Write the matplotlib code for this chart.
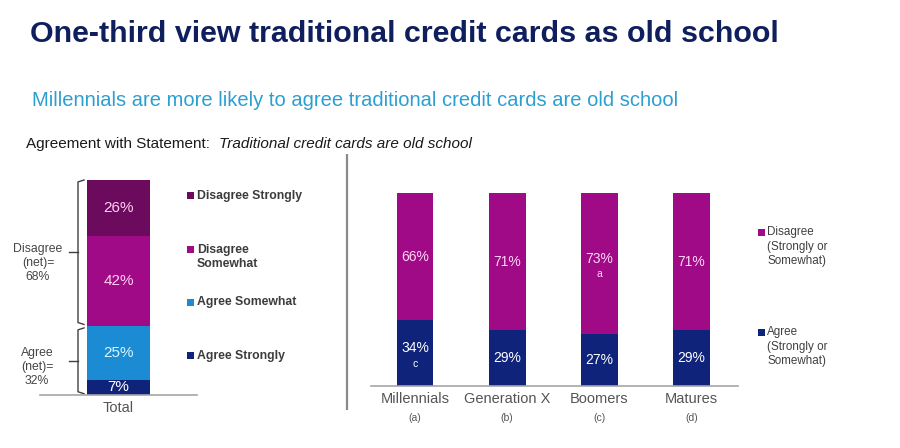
import matplotlib
matplotlib.use("Agg")
import matplotlib.pyplot as plt
from matplotlib.transforms import blended_transform_factory
import numpy as np

plt.rcParams['font.family'] = ['Liberation Sans', 'DejaVu Sans']

# ---------------- data ----------------
title = "One-third view traditional credit cards as old school"
subtitle = "Millennials are more likely to agree traditional credit cards are old school"
statement_label = "Agreement with Statement:  "
statement_text = "Traditional credit cards are old school"

total_category = ["Total"]
total_segments = ["Agree Strongly", "Agree Somewhat", "Disagree Somewhat", "Disagree Strongly"]
total_values = [7, 25, 42, 26]
total_legend_labels = ["Disagree Strongly", "Disagree\nSomewhat", "Agree Somewhat", "Agree Strongly"]
net_labels = ["Agree\n(net)=\n32%", "Disagree\n(net)=\n68%"]

generations = ["Millennials", "Generation X", "Boomers", "Matures"]
generation_letters = ["(a)", "(b)", "(c)", "(d)"]
agree_values = [34, 29, 27, 29]
disagree_values = [66, 71, 73, 71]
agree_sig = ["c", "", "", ""]
disagree_sig = ["", "", "a", ""]
gen_legend_labels = ["Disagree\n(Strongly or\nSomewhat)", "Agree\n(Strongly or\nSomewhat)"]

# ---------------- style ----------------
C_DS = "#6c0a5e"
C_DSW = "#a10a86"
C_AS = "#1b8bd4"
C_AST = "#10237a"
seg_colors = [C_AST, C_AS, C_DSW, C_DS]
seg_text = ["#ffffff", "#d8f6ff", "#ffd0f4", "#ffd0f4"]

W, H = 900, 448
fig = plt.figure(figsize=(9, 4.48), dpi=100)
fig.patch.set_facecolor("white")

def fx(px):
    return px / W

def fy(py):
    return 1 - py / H

# overlay axes in pixel coords for decorations
ov = fig.add_axes([0, 0, 1, 1], zorder=5)
ov.set_xlim(0, W)
ov.set_ylim(H, 0)
ov.axis("off")
ov.patch.set_alpha(0)

renderer = fig.canvas.get_renderer()

def fit_text(x, y, s, target_w, size0, **kw):
    t = ov.text(x, y, s, fontsize=size0, **kw)
    w = t.get_window_extent(renderer=renderer).width
    t.set_fontsize(size0 * target_w / w)
    return t

fit_text(30, 34, title, 748, 22, fontweight="bold", color="#0f1f5e", va="center", ha="left")
fit_text(32, 101, subtitle, 651, 14, color="#2c9fd1", va="center", ha="left")

# statement line: two parts scaled together to span the reference width
s0 = 10.0
t1 = ov.text(26, 144, statement_label, fontsize=s0, color="#1a1a1a", va="center", ha="left")
t2 = ov.text(0, 144, statement_text, fontsize=s0, color="#1a1a1a", va="center", ha="left", style="italic")
w1 = t1.get_window_extent(renderer=renderer).width
w2 = t2.get_window_extent(renderer=renderer).width
k = (472 - 26) / (w1 + w2)
t1.set_fontsize(s0 * k)
t2.set_fontsize(s0 * k)
t2.set_x(26 + w1 * k)

# divider
ov.plot([347, 347], [154, 410], color="#8a8a8a", lw=1.6, solid_capstyle="butt")

# ---------------- left chart ----------------
axL = fig.add_axes([fx(40), fy(395), fx(197) - fx(40), fy(180) - fy(395)])
axL.set_xlim(-0.5, 0.5)
axL.set_ylim(0, 100)
bottom = 0
for name, v, c, tc in zip(total_segments, total_values, seg_colors, seg_text):
    axL.bar([0], [v], bottom=bottom, width=0.40, color=c, edgecolor="none")
    axL.text(0, bottom + v / 2, f"{v}%", ha="center", va="center", fontsize=11, color=tc)
    bottom += v
for s in ["top", "right", "left"]:
    axL.spines[s].set_visible(False)
axL.spines["bottom"].set_color("#a6a6a6")
axL.spines["bottom"].set_linewidth(1.2)
axL.set_yticks([])
axL.set_xticks([0])
axL.set_xticklabels(total_category, fontsize=10.5, color="#555555")
axL.tick_params(axis="x", length=0, pad=4)

# brackets
tr = blended_transform_factory(axL.transAxes, axL.transData)
xb = (78 - 40) / 157
xh = (84 - 40) / 157
xt = (69 - 40) / 157
agree_net = total_values[0] + total_values[1]
groups = [(0.6, agree_net - 0.8), (agree_net + 0.8, 100)]
for (y0, y1), lab in zip(groups, net_labels):
    ym = (y0 + y1) / 2
    axL.plot([xh, xb, xb, xh], [y0, y0 + 0.9, y1 - 0.9, y1], color="#404040", lw=1.0,
             transform=tr, clip_on=False)
    axL.plot([xt, xb], [ym, ym], color="#404040", lw=1.0, transform=tr, clip_on=False)
ov.text(38, 263, net_labels[1], ha="center", va="center", fontsize=8.8, color="#454545", linespacing=1.2)
ov.text(37, 367, net_labels[0], ha="center", va="center", fontsize=8.8, color="#454545", linespacing=1.2)

# left legend
leg_y = [196, 250, 303, 356]
leg_c = [C_DS, C_DSW, C_AS, C_AST]
for y, lab, c in zip(leg_y, total_legend_labels, leg_c):
    ov.add_patch(plt.Rectangle((187, y - 3.5), 7, 7, color=c, lw=0))
    ov.text(197, y - 6.5, lab, ha="left", va="top", fontsize=8.8, fontweight="bold",
            color="#3c3c3c", linespacing=1.25)

# ---------------- right chart ----------------
axR = fig.add_axes([fx(371), fy(386), fx(738) - fx(371), fy(193) - fy(386)])
x = np.arange(len(generations))
axR.set_xlim(-0.477, 3.503)
axR.set_ylim(0, 100)
axR.bar(x, agree_values, width=0.40, color=C_AST, edgecolor="none")
axR.bar(x, disagree_values, bottom=agree_values, width=0.40, color=C_DSW, edgecolor="none")
for i in range(len(generations)):
    a, d = agree_values[i], disagree_values[i]
    for val, base, sig, tc in [(a, 0, agree_sig[i], "#ffffff"), (d, a, disagree_sig[i], "#ffd6f6")]:
        yc = base + val / 2
        if sig:
            axR.text(i, yc + 2.5, f"{val}%", ha="center", va="center", fontsize=10, color=tc)
            axR.text(i, yc - 5.5, sig, ha="center", va="center", fontsize=7.5, color=tc)
        else:
            axR.text(i, yc, f"{val}%", ha="center", va="center", fontsize=10, color=tc)
for s in ["top", "right", "left"]:
    axR.spines[s].set_visible(False)
axR.spines["bottom"].set_color("#a6a6a6")
axR.spines["bottom"].set_linewidth(1.2)
axR.set_yticks([])
axR.set_xticks(x)
axR.set_xticklabels(generations, fontsize=10.5, color="#555555")
axR.tick_params(axis="x", length=0, pad=4)
trR = blended_transform_factory(axR.transData, ov.transData)
for i, l in enumerate(generation_letters):
    ov.text(i, 418, l, transform=trR, ha="center", va="center", fontsize=7.5, color="#555555")

# right legend
for y, lab, c in zip([233, 333], gen_legend_labels, [C_DSW, C_AST]):
    ov.add_patch(plt.Rectangle((758, y - 3.5), 6.5, 6.5, color=c, lw=0))
    ov.text(767, y - 7, lab, ha="left", va="top", fontsize=8.4, color="#404040", linespacing=1.3)

fig.savefig("out.png", dpi=100, facecolor="white")
